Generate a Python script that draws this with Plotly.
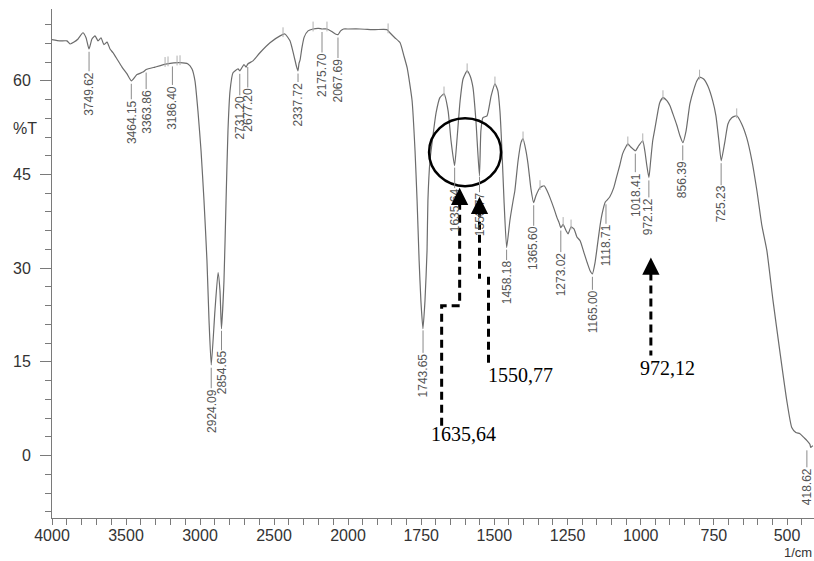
import numpy as np
import plotly.graph_objects as go

# FTIR spectrum: wavenumber (1/cm) and transmittance (%T)
wavenumber = [
    4000, 3946, 3899, 3878, 3851, 3824, 3791, 3770, 3750, 3730, 3709, 3689, 3669, 3649, 3628, 3608,
    3588, 3561, 3527, 3493, 3464, 3426, 3385, 3364, 3304, 3223, 3135, 3081, 3054, 3034, 3014, 2993,
    2973, 2953, 2939, 2924, 2899, 2878, 2865, 2855, 2838, 2824, 2811, 2797, 2777, 2743, 2731, 2703,
    2689, 2677, 2642, 2595, 2527, 2459, 2426, 2392, 2365, 2348, 2338, 2331, 2324, 2312, 2296, 2270,
    2236, 2200, 2176, 2142, 2110, 2085, 2068, 2050, 2030, 2000,
    1959, 1908, 1867, 1857, 1840, 1822, 1809, 1798, 1788, 1781, 1771, 1764, 1757, 1751, 1744, 1737,
    1730, 1727, 1720, 1709, 1699, 1686, 1672, 1658, 1648, 1636, 1628, 1617, 1607, 1593, 1583, 1573,
    1563, 1551, 1546, 1539, 1525, 1511, 1498, 1488, 1481, 1474, 1467, 1458, 1447, 1436, 1430, 1419,
    1409, 1402, 1392, 1385, 1375, 1366, 1358, 1344, 1330, 1320, 1310, 1296, 1286, 1279, 1273, 1265,
    1255, 1248, 1238, 1228, 1218, 1207, 1194, 1183, 1173, 1165, 1156, 1149, 1139, 1132, 1121, 1115,
    1106, 1092, 1083, 1072, 1062, 1051, 1044, 1034, 1018, 1007, 993, 986, 979, 972, 966, 959,
    951, 941, 935, 924, 910, 900, 890, 876, 866, 856, 845, 832, 818, 808, 799, 785,
    771, 754, 743, 733, 725, 712, 702, 689, 672, 655, 638, 620, 603, 586, 569, 548,
    525, 501, 484, 470, 456, 443, 432, 422, 419, 412,
]
transmittance = [
    66.6, 66.4, 66.4, 65.9, 66.2, 66.7, 67.7, 66.9, 65.1, 66.7, 67.2, 66.4, 66.9, 65.8, 66.2, 65.1,
    64.5, 63.5, 62.2, 61.1, 60.0, 61.0, 61.4, 61.8, 62.2, 62.7, 62.9, 62.7, 61.9, 60.0, 55.2, 48.8,
    40.8, 31.2, 21.6, 14.5, 23.2, 29.3, 26.4, 20.3, 28.0, 40.8, 52.0, 58.4, 61.3, 61.9, 61.6, 62.6,
    62.2, 62.7, 63.2, 64.5, 66.1, 67.2, 67.5, 66.4, 64.0, 62.3, 61.6, 62.8, 63.3, 65.2, 67.0, 68.0,
    68.3, 68.4, 68.3, 68.3, 67.9, 67.5, 67.4, 68.0, 68.3, 68.3,
    68.3, 68.2, 68.2, 67.7, 66.9, 66.1, 64.0, 62.1, 59.2, 56.8, 48.8, 40.8, 31.2, 24.8, 20.3, 24.8,
    32.8, 40.8, 47.2, 51.5, 54.9, 57.3, 57.9, 55.2, 50.4, 46.4, 50.4, 56.8, 60.3, 61.6, 60.8, 58.9,
    53.6, 44.8, 52.0, 54.1, 54.4, 57.6, 59.5, 58.4, 55.2, 48.8, 40.8, 33.3, 37.6, 40.8, 42.4, 47.2,
    50.1, 50.7, 48.8, 46.7, 42.7, 40.5, 41.6, 42.9, 43.2, 42.4, 41.3, 39.5, 38.1, 37.3, 36.5, 37.0,
    36.0, 35.5, 36.6, 36.3, 35.0, 34.4, 32.5, 30.9, 29.6, 29.1, 30.9, 33.3, 36.8, 38.7, 40.6, 40.9,
    41.4, 42.9, 44.5, 46.4, 48.3, 49.4, 49.9, 49.4, 48.8, 49.6, 50.4, 48.8, 46.4, 44.5, 47.2, 50.4,
    52.5, 55.2, 56.5, 57.3, 56.8, 56.0, 54.7, 52.8, 51.2, 50.1, 52.0, 56.3, 58.7, 60.0, 60.6, 60.3,
    59.2, 56.8, 54.4, 50.4, 47.2, 50.4, 53.1, 54.1, 54.4, 53.1, 50.9, 47.2, 42.4, 36.8, 32.8, 24.8,
    16.8, 8.8, 4.5, 3.7, 3.5, 2.9, 2.4, 1.8, 1.3, 1.6,
]

# peak-picked band positions printed by the instrument
peak_positions = [
    3749.62, 3464.15, 3363.86, 3186.40, 2924.09, 2854.65, 2731.20, 2677.20, 2337.72,
    2175.70, 2067.69, 1743.65, 1635.64, 1550.77, 1458.18, 1365.60, 1273.02, 1165.00,
    1118.71, 1018.41, 972.12, 856.39, 725.23, 418.62,
]
# small maxima markers drawn on the trace
maxima_positions = [3236, 3216, 3155, 3135, 2439, 2236, 2142, 1863, 1672, 1593, 1498,
                    1402, 1344, 1265, 1238, 1044, 993, 924, 799, 672]

# highlighted bands (annotation text)
highlight_bands = [1635.64, 1550.77, 972.12]
highlight_text = ["1635,64", "1550,77", "972,12"]

x_ticks_high = [4000, 3500, 3000, 2500, 2000]
x_ticks_low = [1750, 1500, 1250, 1000, 750, 500]
y_ticks = [0, 15, 30, 45, 60]

# ---------------------------------------------------------------------------
wn = np.array(wavenumber, dtype=float)
tr = np.array(transmittance, dtype=float)


def t_at(v):
    return float(np.interp(v, wn[::-1], tr[::-1]))


def xref_for(v):
    return "x" if v > 2000 else "x2"


W, H = 814, 561
ML, MR, MT, MB = 52, 0, 9, 43
split_frac = 296 / (W - ML - MR)

curve_color = "#6c6c6c"
label_color = "#555555"
axis_color = "#7a7a7a"
tick_font = dict(family="Liberation Sans, Arial, sans-serif", size=16, color="#333333")

hi = wn >= 2000
lo = wn <= 2000

fig = go.Figure()
fig.add_trace(go.Scatter(x=wn[hi], y=tr[hi], xaxis="x", yaxis="y", mode="lines",
                         line=dict(color=curve_color, width=1.2, shape="spline", smoothing=0.5),
                         hoverinfo="skip", showlegend=False))
fig.add_trace(go.Scatter(x=wn[lo], y=tr[lo], xaxis="x2", yaxis="y", mode="lines",
                         line=dict(color=curve_color, width=1.2, shape="spline", smoothing=0.5),
                         hoverinfo="skip", showlegend=False))

mx = np.array(maxima_positions, dtype=float)
for ax_name, mask in (("x", mx > 2000), ("x2", mx <= 2000)):
    fig.add_trace(go.Scatter(
        x=mx[mask], y=[t_at(v) + 0.4 for v in mx[mask]], xaxis=ax_name, yaxis="y",
        mode="markers", hoverinfo="skip", showlegend=False,
        marker=dict(symbol="line-ns", size=7, line=dict(color="#b0b0b0", width=1)),
    ))

# distance (px) from band minimum to the top of its printed label
label_gap = {3749.62: 24, 3464.15: 20, 3363.86: 21, 3186.40: 23, 2731.20: 26, 2677.20: 25,
             2337.72: 13, 2175.70: 25, 2067.69: 25, 2924.09: 25, 2854.65: 24, 1743.65: 27,
             1635.64: 25, 1550.77: 20, 1458.18: 15, 1365.60: 25, 1273.02: 26, 1165.00: 17,
             1118.71: 23, 1018.41: 23, 972.12: 18, 856.39: 16, 725.23: 23, 418.62: 18}
# horizontal nudge so the last label stays inside the figure
label_nudge = {418.62: -4}

annotations = []
for p in peak_positions:
    txt = f"{p:.2f}"
    half = 21
    annotations.append(dict(
        x=p, y=t_at(p), xref=xref_for(p), yref="y", text=txt, textangle=-90,
        font=dict(family="Liberation Sans, Arial, sans-serif", size=12, color=label_color),
        showarrow=True, arrowhead=0, arrowwidth=1, arrowcolor="#8a8a8a",
        ax=0, ay=label_gap[p] + half, standoff=3, borderpad=0,
        xshift=label_nudge.get(p, 0),
    ))

# arrow heads pointing at the highlighted bands (pixel offsets from band minimum)
arrow_offsets = [(5, -23), (0, -23), (2, -80)]
for b, (dx, dy) in zip(highlight_bands, arrow_offsets):
    annotations.append(dict(
        x=b, y=t_at(b), xref="x2", yref="y", text="", showarrow=True,
        arrowhead=2, arrowsize=1.15, arrowwidth=3, arrowcolor="black",
        ax=0, ay=16, xshift=dx, yshift=dy, standoff=0,
    ))

label_offsets = [(9, -269), (41, -201), (19, -191)]
for b, txt, (dx, dy) in zip(highlight_bands, highlight_text, label_offsets):
    annotations.append(dict(
        x=b, y=t_at(b), xref="x2", yref="y", text=txt, showarrow=False,
        xshift=dx, yshift=dy, xanchor="center", yanchor="middle",
        font=dict(family="Liberation Serif, Times New Roman, serif", size=20, color="black"),
    ))

annotations.append(dict(x=(25 - ML) / (W - ML - MR), y=52.3, xref="paper", yref="y", text="%T",
                        showarrow=False, xanchor="center", yanchor="middle", font=tick_font))
annotations.append(dict(x=(813 - ML) / (W - ML - MR), y=-(561 - (H - MB)) / (H - MT - MB),
                        xref="paper", yref="paper", text="1/cm", showarrow=False,
                        xanchor="right", yanchor="bottom", borderpad=0,
                        font=dict(family="Liberation Sans, Arial, sans-serif", size=13,
                                  color="#333333")))

# dashed leader paths (pixel offsets from band minimum)
dash_paths = [
    "M 5,-37 L 5,-141 L -13,-141 L -13,-262",
    "M 0,-35 L 0,-105 M 9,-103 L 9,-190",
    "M 2,-95 L 2,-178",
]
shapes = []
for b, pth in zip(highlight_bands, dash_paths):
    shapes.append(dict(
        type="path", xref="x2", yref="y", xsizemode="pixel", ysizemode="pixel",
        xanchor=b, yanchor=t_at(b), path=pth, fillcolor="rgba(0,0,0,0)",
        line=dict(color="black", width=3, dash="8px,5px"),
    ))

# ellipse around the two bands of interest
mid = (highlight_bands[0] + highlight_bands[1]) / 2
mid_t = (t_at(highlight_bands[0]) + t_at(highlight_bands[1])) / 2
shapes.append(dict(type="circle", xref="x2", yref="y", xsizemode="pixel", ysizemode="pixel",
                   xanchor=mid, yanchor=mid_t, x0=-38, x1=34, y0=-17, y1=51,
                   line=dict(color="black", width=2.5)))

common_x = dict(showline=True, linecolor=axis_color, linewidth=1, showgrid=False, zeroline=False,
                ticks="outside", ticklen=6, tickcolor=axis_color, tickwidth=1, tickfont=tick_font,
                anchor="y", tickmode="array", automargin=False, ticklabelstandoff=-3)

fig.update_layout(
    width=W, height=H, margin=dict(l=ML, r=MR, t=MT, b=MB, autoexpand=False),
    paper_bgcolor="white", plot_bgcolor="white", showlegend=False,
    xaxis=dict(domain=[0, split_frac], range=[4000, 2000], tickvals=x_ticks_high,
               ticktext=[str(v) for v in x_ticks_high],
               minor=dict(tickmode="linear", tick0=0, dtick=100, ticks="outside", ticklen=6,
                          tickcolor=axis_color),
               **common_x),
    xaxis2=dict(domain=[split_frac, 1], range=[2000, 408], tickvals=x_ticks_low,
                ticktext=[str(v) for v in x_ticks_low],
                minor=dict(tickmode="linear", tick0=0, dtick=50, ticks="outside", ticklen=6,
                           tickcolor=axis_color),
                **common_x),
    yaxis=dict(range=[-10, 71.5], anchor="x", showline=True, linecolor=axis_color, linewidth=1,
               showgrid=False, zeroline=False, tickmode="array", tickvals=y_ticks,
               ticktext=[str(v) for v in y_ticks], ticks="outside", ticklen=11,
               tickcolor=axis_color, tickfont=tick_font, ticklabelstandoff=6, automargin=False,
               minor=dict(tickmode="linear", tick0=0, dtick=3, ticks="outside", ticklen=6,
                          tickcolor=axis_color)),
    annotations=annotations,
    shapes=shapes,
)

fig.write_html("out.html")
